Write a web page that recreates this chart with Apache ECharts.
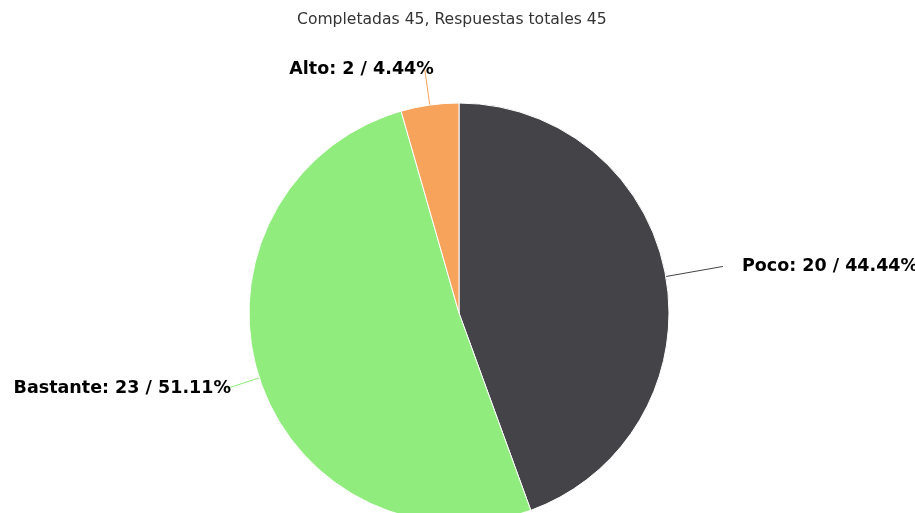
<!DOCTYPE html>
<html><head><meta charset="utf-8">
<script src="https://cdn.jsdelivr.net/npm/echarts@6/dist/echarts.min.js"></script>
<style>html,body{margin:0;padding:0;background:#fff}#c{width:915px;height:513px}</style>
</head><body><div id="c"></div>
<script>
const titleText = 'Completadas 45, Respuestas totales 45';
const categories = ['Poco', 'Bastante', 'Alto'];
const values = [20, 23, 2];
const colors = ['#434348', '#90ed7d', '#f7a35c'];

const total = values.reduce((a, b) => a + b, 0);
const lineLen = [58, 34, 36];
const labelGap = [19, -4, -9];

const chart = echarts.init(document.getElementById('c'));
chart.setOption({
  animation: false,
  title: {
    text: titleText, left: 292, top: 7,
    textStyle: { fontFamily: 'DejaVu Sans', fontSize: 15.6, fontWeight: 'normal', color: '#333333' }
  },
  series: [{
    type: 'pie',
    center: [459, 313],
    radius: 210,
    startAngle: 90,
    clockwise: true,
    avoidLabelOverlap: false,
    itemStyle: { borderColor: '#ffffff', borderWidth: 1 },
    label: {
      show: true,
      formatter: p => p.name + ': ' + p.value + ' / ' + (p.value / total * 100).toFixed(2) + '%',
      fontFamily: 'DejaVu Sans', fontWeight: 'bold', fontSize: 17.5, color: '#000000'
    },
    labelLine: { show: true, length2: 0, smooth: false, lineStyle: { width: 1 } },
    data: categories.map((n, i) => ({
      name: n, value: values[i],
      itemStyle: { color: colors[i] },
      label: { distanceToLabelLine: labelGap[i] },
      labelLine: { length: lineLen[i], length2: 0 }
    }))
  }]
});
</script></body></html>
